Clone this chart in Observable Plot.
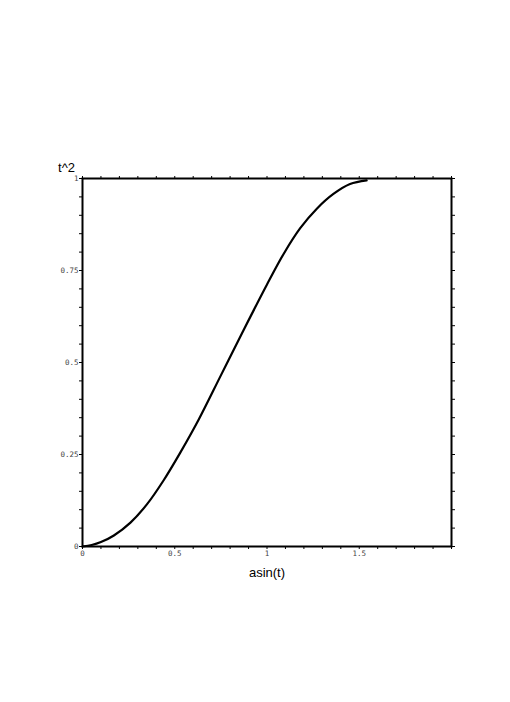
<!DOCTYPE html>
<html>
<head>
<meta charset="utf-8">
<script src="https://cdn.jsdelivr.net/npm/d3@7"></script>
<script src="https://cdn.jsdelivr.net/npm/@observablehq/plot@0.6"></script>
<style>
  html, body { margin: 0; padding: 0; background: white; }
</style>
</head>
<body>
<div id="chart"></div>
<script>
// Curve points: x = asin(t), y = t^2
const curveX = [0, 0.05, 0.10, 0.17, 0.26, 0.35, 0.44, 0.53, 0.63, 0.75, 0.87, 1.00, 1.09, 1.18, 1.27, 1.36, 1.45, 1.54];
const curveY = [0, 0.004, 0.012, 0.030, 0.065, 0.115, 0.180, 0.255, 0.345, 0.465, 0.585, 0.712, 0.795, 0.865, 0.918, 0.958, 0.985, 0.995];

// Axis ticks
const xMajorTicks = [0, 0.5, 1, 1.5];
const xTickLabels = ["0", "0.5", "1", "1.5"];
const yMajorTicks = [0, 0.25, 0.5, 0.75, 1];
const yTickLabels = ["0", "0.25", "0.5", "0.75", "1"];
const xMinorTicks = [0, 0.1, 0.2, 0.3, 0.4, 0.5, 0.6, 0.7, 0.8, 0.9, 1.0, 1.1, 1.2, 1.3, 1.4, 1.5, 1.6, 1.7, 1.8, 1.9, 2.0];
const yMinorTicks = [0, 0.05, 0.1, 0.15, 0.2, 0.25, 0.3, 0.35, 0.4, 0.45, 0.5, 0.55, 0.6, 0.65, 0.7, 0.75, 0.8, 0.85, 0.9, 0.95, 1.0];

const xTitle = "asin(t)";
const yTitle = "t^2";

const curve = curveX.map((x, i) => ({x, y: curveY[i]}));

const mono = "DejaVu Sans Mono, monospace";
const sans = "Liberation Sans, Arial, sans-serif";

const chart = Plot.plot({
  width: 510,
  height: 702,
  marginLeft: 82,
  marginRight: 59,
  marginTop: 178,
  marginBottom: 156,
  style: {background: "white", color: "black"},
  x: {domain: [0, 2]},
  y: {domain: [0, 1]},
  marks: [
    // tick marks on all four sides
    Plot.axisX(xMinorTicks, {anchor: "bottom", tickSize: 3, text: null, label: null, stroke: "black"}),
    Plot.axisX(xMinorTicks, {anchor: "top", tickSize: 3, text: null, label: null, stroke: "black"}),
    Plot.axisY(yMinorTicks, {anchor: "left", tickSize: 3, text: null, label: null, stroke: "black"}),
    Plot.axisY(yMinorTicks, {anchor: "right", tickSize: 3, text: null, label: null, stroke: "black"}),
    // tick labels
    Plot.axisX(xMajorTicks, {
      anchor: "bottom", tickSize: 0, tickPadding: 4, label: null,
      tickFormat: d => xTickLabels[xMajorTicks.indexOf(d)],
      fontFamily: mono, fontSize: 7.5, fill: "#444"
    }),
    Plot.axisY(yMajorTicks, {
      anchor: "left", tickSize: 0, tickPadding: 4, label: null,
      tickFormat: d => yTickLabels[yMajorTicks.indexOf(d)],
      fontFamily: mono, fontSize: 7.5, fill: "#444"
    }),
    Plot.frame({stroke: "black", strokeWidth: 2}),
    Plot.line(curve, {x: "x", y: "y", curve: "catmull-rom", stroke: "black", strokeWidth: 2.2}),
    // axis titles
    Plot.text([yTitle], {text: d => d, frameAnchor: "top-left", textAnchor: "middle", lineAnchor: "middle", dx: -16, dy: -10.5, fontSize: 13, fontFamily: sans, fill: "black"}),
    Plot.text([xTitle], {text: d => d, frameAnchor: "bottom", textAnchor: "middle", lineAnchor: "middle", dy: 26.5, fontSize: 13, fontFamily: sans, fill: "black"})
  ]
});

document.getElementById("chart").appendChild(chart);
</script>
</body>
</html>
